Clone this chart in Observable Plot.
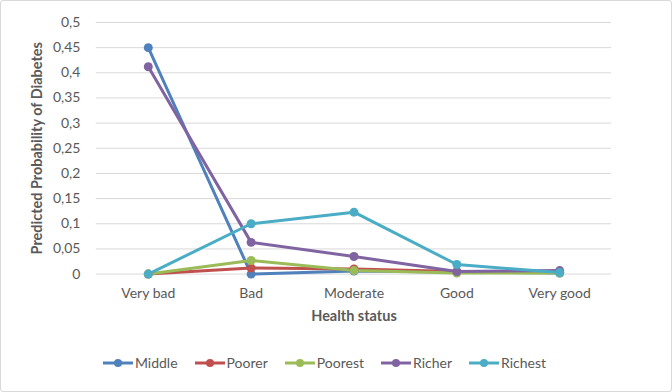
<!DOCTYPE html>
<html>
<head>
<meta charset="utf-8">
<script src="https://cdn.jsdelivr.net/npm/d3@7"></script>
<script src="https://cdn.jsdelivr.net/npm/@observablehq/plot@0.6"></script>
<style>
  html, body { margin: 0; padding: 0; background: #fff; }
  #wrap { position: relative; width: 672px; height: 392px; box-sizing: border-box; border: 1px solid #d9d9d9; border-radius: 3px; overflow: hidden; font-family: Lato, "Open Sans", sans-serif; }
  #chart { position: absolute; left: -1px; top: -1px; }
  #legend { position: absolute; left: 0; right: 0; top: 353px; display: flex; justify-content: center; gap: 16px; font-size: 14px; color: #595959; padding-right: 24px; }
  #legend .item { display: flex; align-items: center; gap: 1px; }
</style>
</head>
<body>
<div id="wrap">
  <div id="chart"></div>
  <div id="legend"></div>
</div>
<script>
const categories = ["Very bad", "Bad", "Moderate", "Good", "Very good"];
const seriesNames = ["Middle", "Poorer", "Poorest", "Richer", "Richest"];
const seriesColors = ["#4F81BD", "#C0504D", "#9BBB59", "#8064A2", "#4BACC6"];
const middle  = [0.450, 0.000, 0.006, 0.004, 0.002];
const poorer  = [0.000, 0.012, 0.010, 0.005, 0.003];
const poorest = [0.000, 0.027, 0.007, 0.002, 0.002];
const richer  = [0.412, 0.063, 0.035, 0.005, 0.007];
const richest = [0.000, 0.100, 0.123, 0.019, 0.003];
const yTicks = [0, 0.05, 0.1, 0.15, 0.2, 0.25, 0.3, 0.35, 0.4, 0.45, 0.5];

const seriesValues = [middle, poorer, poorest, richer, richest];
const data = [];
seriesNames.forEach((s, i) => categories.forEach((c, j) => data.push({series: s, category: c, value: seriesValues[i][j]})));

const fmt = d => String(d).replace(".", ",");

const chart = Plot.plot({
  width: 672,
  height: 340,
  marginTop: 22,
  marginBottom: 66,
  marginLeft: 96,
  marginRight: 60,
  style: {fontFamily: "Lato, 'Open Sans', sans-serif", fontSize: "14px", color: "#595959", background: "transparent"},
  x: {type: "point", domain: categories, padding: 0.5, label: null},
  y: {domain: [0, 0.5], label: null},
  color: {domain: seriesNames, range: seriesColors},
  marks: [
    Plot.ruleY(yTicks, {stroke: "#d9d9d9", strokeWidth: 1}),
    Plot.axisY({ticks: yTicks, tickSize: 0, tickPadding: 16, tickFormat: fmt, label: null, fontSize: 14}),
    Plot.axisX({tickSize: 0, tickPadding: 14, label: null, fontSize: 14}),
    Plot.text(["Predicted Probability of Diabetes"], {frameAnchor: "left", dx: -59, rotate: -90, textAnchor: "middle", fontWeight: "bold", fontSize: 14.5, fill: "#595959"}),
    Plot.text(["Health status"], {frameAnchor: "bottom", dy: 47, textAnchor: "middle", fontWeight: "bold", fontSize: 14.5, fill: "#595959"}),
    Plot.line(data, {x: "category", y: "value", z: "series", stroke: "series", strokeWidth: 3, curve: "linear"}),
    Plot.dot(data, {x: "category", y: "value", fill: "series", r: 4.5})
  ]
});
document.getElementById("chart").appendChild(chart);

const legend = document.getElementById("legend");
seriesNames.forEach((s, i) => {
  const item = document.createElement("div");
  item.className = "item";
  item.innerHTML = `<svg width="32" height="10"><line x1="1" x2="31" y1="5" y2="5" stroke="${seriesColors[i]}" stroke-width="3"/><circle cx="16" cy="5" r="4" fill="${seriesColors[i]}"/></svg><span>${s}</span>`;
  legend.appendChild(item);
});
</script>
</body>
</html>
